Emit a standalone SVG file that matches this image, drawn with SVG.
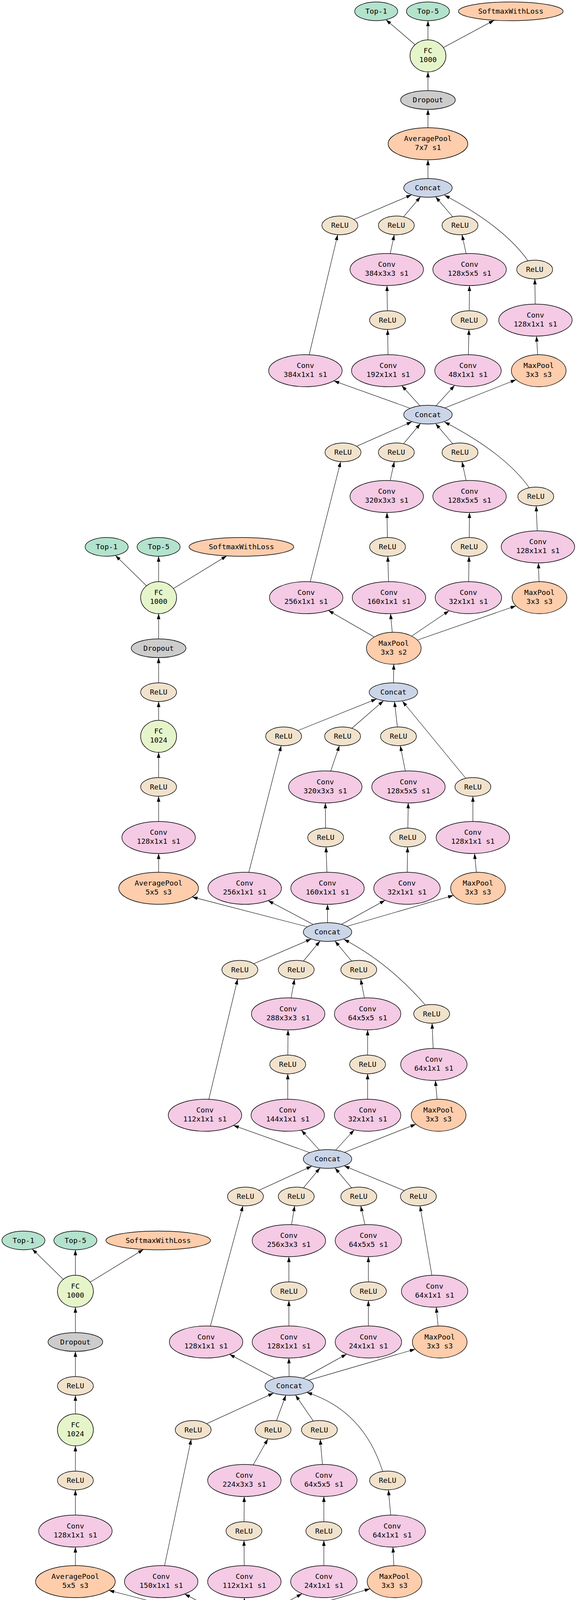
<svg xmlns="http://www.w3.org/2000/svg" width="1477" height="6967" viewBox="0 0 1477 6967">
<style>
text{font-family:"DejaVu Sans Mono","Liberation Mono",monospace;font-size:18.5px;text-anchor:middle;fill:#000}
ellipse{stroke:#000;stroke-width:1.4}
.conv ellipse{fill:#f4cae4}
.relu ellipse{fill:#f1e2cc}
.pool ellipse{fill:#fdcdac}
.cat ellipse{fill:#cbd5e8}
.fc ellipse{fill:#e6f5c9}
.drop ellipse{fill:#cccccc}
.io ellipse{fill:#b3e2cd}
.lrn ellipse{fill:#fff2ae}
#edges path{fill:none;stroke:#000;stroke-width:1.1;marker-end:url(#arr)}
</style>
<defs>
<marker id="arr" markerUnits="userSpaceOnUse" markerWidth="14" markerHeight="10" refX="14" refY="5" orient="auto" viewBox="0 0 14 10"><path d="M0,0.5 L14,5 L0,9.5 z" fill="#000"/></marker>
</defs>
<rect width="1477" height="6967" fill="#fff"/>
<g id="edges">
<path d="M1095.5,143 L987.9,50.4"/>
<path d="M1095.5,143 L1095.5,53"/>
<path d="M1095.5,143 L1265.1,51.8"/>
<path d="M1095.5,256 L1095.5,184"/>
<path d="M1095.5,368 L1095.5,280"/>
<path d="M1095.5,481 L1095.5,409"/>
<path d="M870,577 L1053.8,498.7"/>
<path d="M1014.5,577 L1076.3,503.8"/>
<path d="M1177.5,577 L1115,503.8"/>
<path d="M1351.7,667.7 Q1290,580 1137.5,499.5"/>
<path d="M990,690 L1009.3,600.8"/>
<path d="M1202,690 L1182.7,600.8"/>
<path d="M992,819.5 L990.6,731"/>
<path d="M1201,819.5 L1201.7,731"/>
<path d="M1370.6,819.5 L1369.1,714"/>
<path d="M781.8,949 L864.4,600.8"/>
<path d="M993.8,949 L992.3,843.5"/>
<path d="M1198,949 L1200.4,843.5"/>
<path d="M1379,949 L1373.3,860.5"/>
<path d="M1095.5,1061.5 L854.4,975"/>
<path d="M1095.5,1061.5 L1028.3,987.1"/>
<path d="M1095.5,1061.5 L1163.8,986.5"/>
<path d="M1095.5,1061.5 L1321.1,972"/>
<path d="M878,1158 L1054.7,1079.6"/>
<path d="M1014.5,1158 L1076.3,1084.3"/>
<path d="M1177.5,1158 L1114.9,1084.3"/>
<path d="M1354.5,1248.2 Q1292,1160.5 1137.5,1080"/>
<path d="M990,1271 L1009.3,1181.8"/>
<path d="M1202,1271 L1182.7,1181.8"/>
<path d="M992,1400 L990.6,1312"/>
<path d="M1201,1400 L1201.7,1312"/>
<path d="M1377,1400 L1372.5,1295"/>
<path d="M783.7,1530 L872,1181.8"/>
<path d="M995.7,1530 L992.7,1424"/>
<path d="M1199,1530 L1200.6,1424"/>
<path d="M1381,1530 L1378.3,1441"/>
<path d="M1008,1659.5 L840.4,1562.7"/>
<path d="M1008,1659.5 L999.6,1571"/>
<path d="M1008,1659.5 L1149.7,1563.4"/>
<path d="M1008,1659.5 L1320.8,1550.9"/>
<path d="M1007,1772 L1007.9,1700.5"/>
<path d="M406,1530 L295.4,1421.9"/>
<path d="M406,1530 L406,1424"/>
<path d="M406,1530 L580.4,1423"/>
<path d="M406,1659.5 L406,1571"/>
<path d="M406,1772 L406,1683.5"/>
<path d="M406,1885 L406,1796"/>
<path d="M406,2014.5 L406,1926"/>
<path d="M406,2144 L406,2038.5"/>
<path d="M406,2274 L406,2185"/>
<path d="M838.4,2386 L491.7,2296.2"/>
<path d="M726,1885 L964,1789.3"/>
<path d="M877,1885 L981.8,1793.9"/>
<path d="M1020,1885 L1009.8,1796"/>
<path d="M1210.5,2014.5 L1030,1795"/>
<path d="M832.7,2014.5 L868.9,1908.6"/>
<path d="M1045.6,2014.5 L1024.7,1908.9"/>
<path d="M833.6,2144 L832.9,2055.5"/>
<path d="M1043.7,2144 L1045,2055.5"/>
<path d="M1210.5,2144 L1210.5,2038.5"/>
<path d="M626.4,2274 L719.9,1908.8"/>
<path d="M838.4,2274 L834.5,2168"/>
<path d="M1041.8,2274 L1043.3,2168"/>
<path d="M1223.6,2274 L1214.6,2185"/>
<path d="M838.4,2386 L686.2,2305.6"/>
<path d="M838.4,2386 L838.4,2315"/>
<path d="M838.4,2386 L985.8,2304.8"/>
<path d="M838.4,2386 L1160.9,2292.2"/>
<path d="M614,2482.5 L796.9,2403.8"/>
<path d="M758.3,2482.5 L819.4,2408.9"/>
<path d="M918.4,2482.5 L857.3,2408.9"/>
<path d="M1088,2572 Q995,2465 880,2404.5"/>
<path d="M737.6,2595.5 L754,2506.4"/>
<path d="M941,2595.5 L923.2,2506.4"/>
<path d="M736.6,2725 L737.3,2636.5"/>
<path d="M941,2725 L941,2636.5"/>
<path d="M1110.6,2725 L1106,2619.5"/>
<path d="M524.7,2855 L608.3,2506.3"/>
<path d="M736.6,2855 L736.6,2749"/>
<path d="M941,2855 L941,2749"/>
<path d="M1122.8,2855 L1114.4,2766"/>
<path d="M838.4,2967 L597.4,2881"/>
<path d="M838.4,2967 L771.2,2893.1"/>
<path d="M838.4,2967 L906.6,2892.5"/>
<path d="M838.4,2967 L1064.7,2877.9"/>
<path d="M628.3,3063 L798.3,2985.3"/>
<path d="M758.3,3063 L819.3,2989.8"/>
<path d="M918.4,3063 L857.4,2989.8"/>
<path d="M1071,3063 L880.8,2984.5"/>
<path d="M739.5,3176 L754.3,3086.9"/>
<path d="M943,3176 L923.6,3086.8"/>
<path d="M739.5,3305.5 L739.5,3217"/>
<path d="M943,3305.5 L943,3217"/>
<path d="M1112.5,3305.5 L1075.1,3086.9"/>
<path d="M527.5,3435.5 L621.9,3086.8"/>
<path d="M739.5,3435.5 L739.5,3329.5"/>
<path d="M943,3435.5 L943,3329.5"/>
<path d="M1125.6,3435.5 L1116.6,3346.5"/>
<path d="M740.4,3548 L587.3,3467.1"/>
<path d="M740.4,3548 L739.5,3476.5"/>
<path d="M740.4,3548 L887.3,3466.4"/>
<path d="M740.4,3548 L1063,3453.8"/>
<path d="M193,3305.5 L82.4,3197.4"/>
<path d="M193,3305.5 L193,3199.5"/>
<path d="M193,3305.5 L367.4,3198.5"/>
<path d="M193,3435.5 L193,3346.5"/>
<path d="M193,3548 L193,3459.5"/>
<path d="M193,3660.5 L193,3572"/>
<path d="M193,3790 L193,3701.5"/>
<path d="M193,3919.5 L193,3814"/>
<path d="M193,4049 L193,3960.5"/>
<path d="M625.5,4161.5 L278.6,4071.3"/>
<path d="M494.5,3660.5 L700.3,3566.3"/>
<path d="M699,3660.5 L731.7,3571.8"/>
<path d="M817.6,3660.5 L756.3,3571.2"/>
<path d="M979.6,3766.7 Q930,3610 785,3564.5"/>
<path d="M625.5,3790 L685.9,3683.5"/>
<path d="M829,3790 L819.7,3684.5"/>
<path d="M624.5,3919.5 L625.2,3831"/>
<path d="M829,3919.5 L829,3831"/>
<path d="M1004,3919.5 L994.2,3814"/>
<path d="M412.6,4049 L489.5,3684.4"/>
<path d="M625.5,4049 L624.6,3943.5"/>
<path d="M829,4049 L829,3943.5"/>
<path d="M1010,4049 L1005.9,3960.5"/>
<path d="M625.5,4161.5 L472.4,4080.6"/>
<path d="M625.5,4161.5 L625.5,4090"/>
<path d="M625.5,4161.5 L773.1,4079.9"/>
<path d="M625.5,4161.5 L947.4,4067.3"/>
<path d="M403,4258 L584.2,4179.4"/>
<path d="M545.4,4258 L606.5,4184.4"/>
<path d="M704.6,4258 L644.3,4184.4"/>
<path d="M871.3,4348 Q800,4250 669,4180"/>
<path d="M523.7,4371 L540.8,4281.9"/>
<path d="M728,4371 L709.5,4281.9"/>
<path d="M524.7,4500 L524,4412"/>
<path d="M725.3,4500 L727.1,4412"/>
<path d="M894,4500 L889.4,4395"/>
<path d="M323,4630 L397.9,4281.8"/>
<path d="M526.6,4630 L525,4524"/>
<path d="M723.4,4630 L725,4524"/>
<path d="M905,4630 L897.5,4541"/>
<path d="M625,4759.5 L390,4658.7"/>
<path d="M625,4759.5 L555.9,4668.5"/>
<path d="M625,4759.5 L694.1,4668.5"/>
<path d="M625,4759.5 L850.1,4655.4"/>
<path d="M625,4872 L625,4800.5"/>
<path d="M401.3,4968.5 L583.6,4889.9"/>
<path d="M545.4,4968.5 L606.1,4894.9"/>
<path d="M704.6,4968.5 L643.9,4894.9"/>
<path d="M871.3,5058.5 Q800,4960.5 669,4890.5"/>
<path d="M523.7,5081.5 L540.8,4992.4"/>
<path d="M728,5081.5 L709.5,4992.4"/>
<path d="M523.7,5210.5 L523.7,5122.5"/>
<path d="M728,5210.5 L728,5122.5"/>
<path d="M885.5,5210.5 L885.5,5105.5"/>
<path d="M311.8,5341 L395.6,4992.3"/>
<path d="M523.7,5341 L523.7,5234.5"/>
<path d="M728,5341 L728,5234.5"/>
<path d="M909,5341 L892.9,5251.3"/>
<path d="M625,5453 L384.5,5367"/>
<path d="M625,5453 L558.2,5379.1"/>
<path d="M625,5453 L693.5,5378.5"/>
<path d="M625,5453 L850.9,5363.9"/>
<path d="M405,5549.5 L584,5471"/>
<path d="M545.4,5549.5 L606.1,5475.9"/>
<path d="M704.6,5549.5 L643.9,5475.9"/>
<path d="M871.3,5639.5 Q800,5541.5 669,5471.5"/>
<path d="M523.7,5662.5 L540.8,5573.4"/>
<path d="M728,5662.5 L709.5,5573.4"/>
<path d="M524.7,5791.5 L524,5703.5"/>
<path d="M726,5791.5 L727.4,5703.5"/>
<path d="M885.5,5791.5 L885.5,5686.5"/>
<path d="M328.7,5921.5 L400.1,5573.3"/>
<path d="M526.6,5921.5 L525,5815.5"/>
<path d="M723.4,5921.5 L725.5,5815.5"/>
<path d="M905,5921.5 L891.6,5832.4"/>
<path d="M625,6051 L391.7,5949"/>
<path d="M625,6051 L555.9,5960"/>
<path d="M625,6051 L694.1,5960"/>
<path d="M625,6051 L850.1,5946.9"/>
<path d="M625,6163.5 L625,6092"/>
<path d="M625,6260 L625,6187.5"/>
<path d="M625,6373 L625,6284"/>
<path d="M625,6486 L625,6414"/>
<path d="M625,6600 L625,6510"/>
<path d="M625,6713 L625,6641"/>
<path d="M625,6826 L625,6737"/>
<path d="M566,6940 L604.4,6865.8"/>
<path d="M683,6940 L645.3,6865.8"/>
</g>
<g id="nodes">
<g id="n1" class="io" transform="translate(963,29)"><ellipse rx="55" ry="24"/><text y="6">Top-1</text></g>
<g id="n2" class="io" transform="translate(1095.5,29)"><ellipse rx="55" ry="24"/><text y="6">Top-5</text></g>
<g id="n3" class="pool" transform="translate(1307.5,29)"><ellipse rx="134" ry="24"/><text y="6">SoftmaxWithLoss</text></g>
<g id="n4" class="fc" transform="translate(1095.5,143)"><ellipse rx="46" ry="41"/><text y="-7">FC</text><text y="16">1000</text></g>
<g id="n5" class="drop" transform="translate(1095.5,256)"><ellipse rx="70" ry="24"/><text y="6">Dropout</text></g>
<g id="n6" class="pool" transform="translate(1095.5,368)"><ellipse rx="102" ry="41"/><text y="-7">AveragePool</text><text y="16">7x7 s1</text></g>
<g id="n7" class="cat" transform="translate(1095.5,481)"><ellipse rx="62" ry="24"/><text y="6">Concat</text></g>
<g id="n8" class="relu" transform="translate(870,577)"><ellipse rx="46" ry="24"/><text y="6">ReLU</text></g>
<g id="n9" class="relu" transform="translate(1014.5,577)"><ellipse rx="46" ry="24"/><text y="6">ReLU</text></g>
<g id="n10" class="relu" transform="translate(1177.5,577)"><ellipse rx="46" ry="24"/><text y="6">ReLU</text></g>
<g id="n11" class="conv" transform="translate(990,690)"><ellipse rx="94" ry="41"/><text y="-7">Conv</text><text y="16">384x3x3 s1</text></g>
<g id="n12" class="conv" transform="translate(1202,690)"><ellipse rx="94" ry="41"/><text y="-7">Conv</text><text y="16">128x5x5 s1</text></g>
<g id="n13" class="relu" transform="translate(1368.7,690)"><ellipse rx="46" ry="24"/><text y="6">ReLU</text></g>
<g id="n14" class="relu" transform="translate(992,819.5)"><ellipse rx="46" ry="24"/><text y="6">ReLU</text></g>
<g id="n15" class="relu" transform="translate(1201,819.5)"><ellipse rx="46" ry="24"/><text y="6">ReLU</text></g>
<g id="n16" class="conv" transform="translate(1370.6,819.5)"><ellipse rx="94" ry="41"/><text y="-7">Conv</text><text y="16">128x1x1 s1</text></g>
<g id="n17" class="conv" transform="translate(781.8,949)"><ellipse rx="94" ry="41"/><text y="-7">Conv</text><text y="16">384x1x1 s1</text></g>
<g id="n18" class="conv" transform="translate(993.8,949)"><ellipse rx="94" ry="41"/><text y="-7">Conv</text><text y="16">192x1x1 s1</text></g>
<g id="n19" class="conv" transform="translate(1198,949)"><ellipse rx="85" ry="41"/><text y="-7">Conv</text><text y="16">48x1x1 s1</text></g>
<g id="n20" class="pool" transform="translate(1379,949)"><ellipse rx="70" ry="41"/><text y="-7">MaxPool</text><text y="16">3x3 s3</text></g>
<g id="n21" class="cat" transform="translate(1095.5,1061.5)"><ellipse rx="62" ry="24"/><text y="6">Concat</text></g>
<g id="n22" class="relu" transform="translate(878,1158)"><ellipse rx="46" ry="24"/><text y="6">ReLU</text></g>
<g id="n23" class="relu" transform="translate(1014.5,1158)"><ellipse rx="46" ry="24"/><text y="6">ReLU</text></g>
<g id="n24" class="relu" transform="translate(1177.5,1158)"><ellipse rx="46" ry="24"/><text y="6">ReLU</text></g>
<g id="n25" class="conv" transform="translate(990,1271)"><ellipse rx="94" ry="41"/><text y="-7">Conv</text><text y="16">320x3x3 s1</text></g>
<g id="n26" class="conv" transform="translate(1202,1271)"><ellipse rx="94" ry="41"/><text y="-7">Conv</text><text y="16">128x5x5 s1</text></g>
<g id="n27" class="relu" transform="translate(1371.5,1271)"><ellipse rx="46" ry="24"/><text y="6">ReLU</text></g>
<g id="n28" class="relu" transform="translate(992,1400)"><ellipse rx="46" ry="24"/><text y="6">ReLU</text></g>
<g id="n29" class="relu" transform="translate(1201,1400)"><ellipse rx="46" ry="24"/><text y="6">ReLU</text></g>
<g id="n30" class="conv" transform="translate(1377,1400)"><ellipse rx="94" ry="41"/><text y="-7">Conv</text><text y="16">128x1x1 s1</text></g>
<g id="n31" class="conv" transform="translate(783.7,1530)"><ellipse rx="94" ry="41"/><text y="-7">Conv</text><text y="16">256x1x1 s1</text></g>
<g id="n32" class="conv" transform="translate(995.7,1530)"><ellipse rx="94" ry="41"/><text y="-7">Conv</text><text y="16">160x1x1 s1</text></g>
<g id="n33" class="conv" transform="translate(1199,1530)"><ellipse rx="85" ry="41"/><text y="-7">Conv</text><text y="16">32x1x1 s1</text></g>
<g id="n34" class="pool" transform="translate(1381,1530)"><ellipse rx="70" ry="41"/><text y="-7">MaxPool</text><text y="16">3x3 s3</text></g>
<g id="n35" class="pool" transform="translate(1008,1659.5)"><ellipse rx="70" ry="41"/><text y="-7">MaxPool</text><text y="16">3x3 s2</text></g>
<g id="n36" class="cat" transform="translate(1007,1772)"><ellipse rx="62" ry="24"/><text y="6">Concat</text></g>
<g id="n37" class="io" transform="translate(273,1400)"><ellipse rx="55" ry="24"/><text y="6">Top-1</text></g>
<g id="n38" class="io" transform="translate(406,1400)"><ellipse rx="55" ry="24"/><text y="6">Top-5</text></g>
<g id="n39" class="pool" transform="translate(618,1400)"><ellipse rx="134" ry="24"/><text y="6">SoftmaxWithLoss</text></g>
<g id="n40" class="fc" transform="translate(406,1530)"><ellipse rx="46" ry="41"/><text y="-7">FC</text><text y="16">1000</text></g>
<g id="n41" class="drop" transform="translate(406,1659.5)"><ellipse rx="70" ry="24"/><text y="6">Dropout</text></g>
<g id="n42" class="relu" transform="translate(406,1772)"><ellipse rx="46" ry="24"/><text y="6">ReLU</text></g>
<g id="n43" class="fc" transform="translate(406,1885)"><ellipse rx="46" ry="41"/><text y="-7">FC</text><text y="16">1024</text></g>
<g id="n44" class="relu" transform="translate(406,2014.5)"><ellipse rx="46" ry="24"/><text y="6">ReLU</text></g>
<g id="n45" class="conv" transform="translate(406,2144)"><ellipse rx="94" ry="41"/><text y="-7">Conv</text><text y="16">128x1x1 s1</text></g>
<g id="n46" class="pool" transform="translate(406,2274)"><ellipse rx="102" ry="41"/><text y="-7">AveragePool</text><text y="16">5x5 s3</text></g>
<g id="n47" class="relu" transform="translate(726,1885)"><ellipse rx="46" ry="24"/><text y="6">ReLU</text></g>
<g id="n48" class="relu" transform="translate(877,1885)"><ellipse rx="46" ry="24"/><text y="6">ReLU</text></g>
<g id="n49" class="relu" transform="translate(1020,1885)"><ellipse rx="46" ry="24"/><text y="6">ReLU</text></g>
<g id="n50" class="conv" transform="translate(832.7,2014.5)"><ellipse rx="94" ry="41"/><text y="-7">Conv</text><text y="16">320x3x3 s1</text></g>
<g id="n51" class="conv" transform="translate(1045.6,2014.5)"><ellipse rx="94" ry="41"/><text y="-7">Conv</text><text y="16">128x5x5 s1</text></g>
<g id="n52" class="relu" transform="translate(1210.5,2014.5)"><ellipse rx="46" ry="24"/><text y="6">ReLU</text></g>
<g id="n53" class="relu" transform="translate(833.6,2144)"><ellipse rx="46" ry="24"/><text y="6">ReLU</text></g>
<g id="n54" class="relu" transform="translate(1043.7,2144)"><ellipse rx="46" ry="24"/><text y="6">ReLU</text></g>
<g id="n55" class="conv" transform="translate(1210.5,2144)"><ellipse rx="94" ry="41"/><text y="-7">Conv</text><text y="16">128x1x1 s1</text></g>
<g id="n56" class="conv" transform="translate(626.4,2274)"><ellipse rx="94" ry="41"/><text y="-7">Conv</text><text y="16">256x1x1 s1</text></g>
<g id="n57" class="conv" transform="translate(838.4,2274)"><ellipse rx="94" ry="41"/><text y="-7">Conv</text><text y="16">160x1x1 s1</text></g>
<g id="n58" class="conv" transform="translate(1041.8,2274)"><ellipse rx="85" ry="41"/><text y="-7">Conv</text><text y="16">32x1x1 s1</text></g>
<g id="n59" class="pool" transform="translate(1223.6,2274)"><ellipse rx="70" ry="41"/><text y="-7">MaxPool</text><text y="16">3x3 s3</text></g>
<g id="n60" class="cat" transform="translate(838.4,2386)"><ellipse rx="62" ry="24"/><text y="6">Concat</text></g>
<g id="n61" class="relu" transform="translate(614,2482.5)"><ellipse rx="46" ry="24"/><text y="6">ReLU</text></g>
<g id="n62" class="relu" transform="translate(758.3,2482.5)"><ellipse rx="46" ry="24"/><text y="6">ReLU</text></g>
<g id="n63" class="relu" transform="translate(918.4,2482.5)"><ellipse rx="46" ry="24"/><text y="6">ReLU</text></g>
<g id="n64" class="conv" transform="translate(737.6,2595.5)"><ellipse rx="94" ry="41"/><text y="-7">Conv</text><text y="16">288x3x3 s1</text></g>
<g id="n65" class="conv" transform="translate(941,2595.5)"><ellipse rx="85" ry="41"/><text y="-7">Conv</text><text y="16">64x5x5 s1</text></g>
<g id="n66" class="relu" transform="translate(1105,2595.5)"><ellipse rx="46" ry="24"/><text y="6">ReLU</text></g>
<g id="n67" class="relu" transform="translate(736.6,2725)"><ellipse rx="46" ry="24"/><text y="6">ReLU</text></g>
<g id="n68" class="relu" transform="translate(941,2725)"><ellipse rx="46" ry="24"/><text y="6">ReLU</text></g>
<g id="n69" class="conv" transform="translate(1110.6,2725)"><ellipse rx="85" ry="41"/><text y="-7">Conv</text><text y="16">64x1x1 s1</text></g>
<g id="n70" class="conv" transform="translate(524.7,2855)"><ellipse rx="94" ry="41"/><text y="-7">Conv</text><text y="16">112x1x1 s1</text></g>
<g id="n71" class="conv" transform="translate(736.6,2855)"><ellipse rx="94" ry="41"/><text y="-7">Conv</text><text y="16">144x1x1 s1</text></g>
<g id="n72" class="conv" transform="translate(941,2855)"><ellipse rx="85" ry="41"/><text y="-7">Conv</text><text y="16">32x1x1 s1</text></g>
<g id="n73" class="pool" transform="translate(1122.8,2855)"><ellipse rx="70" ry="41"/><text y="-7">MaxPool</text><text y="16">3x3 s3</text></g>
<g id="n74" class="cat" transform="translate(838.4,2967)"><ellipse rx="62" ry="24"/><text y="6">Concat</text></g>
<g id="n75" class="relu" transform="translate(628.3,3063)"><ellipse rx="46" ry="24"/><text y="6">ReLU</text></g>
<g id="n76" class="relu" transform="translate(758.3,3063)"><ellipse rx="46" ry="24"/><text y="6">ReLU</text></g>
<g id="n77" class="relu" transform="translate(918.4,3063)"><ellipse rx="46" ry="24"/><text y="6">ReLU</text></g>
<g id="n78" class="relu" transform="translate(1071,3063)"><ellipse rx="46" ry="24"/><text y="6">ReLU</text></g>
<g id="n79" class="io" transform="translate(60,3175.5)"><ellipse rx="55" ry="24"/><text y="6">Top-1</text></g>
<g id="n80" class="io" transform="translate(193,3175.5)"><ellipse rx="55" ry="24"/><text y="6">Top-5</text></g>
<g id="n81" class="pool" transform="translate(405,3175.5)"><ellipse rx="134" ry="24"/><text y="6">SoftmaxWithLoss</text></g>
<g id="n82" class="conv" transform="translate(739.5,3176)"><ellipse rx="94" ry="41"/><text y="-7">Conv</text><text y="16">256x3x3 s1</text></g>
<g id="n83" class="conv" transform="translate(943,3176)"><ellipse rx="85" ry="41"/><text y="-7">Conv</text><text y="16">64x5x5 s1</text></g>
<g id="n84" class="fc" transform="translate(193,3305.5)"><ellipse rx="46" ry="41"/><text y="-7">FC</text><text y="16">1000</text></g>
<g id="n85" class="relu" transform="translate(739.5,3305.5)"><ellipse rx="46" ry="24"/><text y="6">ReLU</text></g>
<g id="n86" class="relu" transform="translate(943,3305.5)"><ellipse rx="46" ry="24"/><text y="6">ReLU</text></g>
<g id="n87" class="conv" transform="translate(1112.5,3305.5)"><ellipse rx="85" ry="41"/><text y="-7">Conv</text><text y="16">64x1x1 s1</text></g>
<g id="n88" class="drop" transform="translate(193,3435.5)"><ellipse rx="70" ry="24"/><text y="6">Dropout</text></g>
<g id="n89" class="conv" transform="translate(527.5,3435.5)"><ellipse rx="94" ry="41"/><text y="-7">Conv</text><text y="16">128x1x1 s1</text></g>
<g id="n90" class="conv" transform="translate(739.5,3435.5)"><ellipse rx="94" ry="41"/><text y="-7">Conv</text><text y="16">128x1x1 s1</text></g>
<g id="n91" class="conv" transform="translate(943,3435.5)"><ellipse rx="85" ry="41"/><text y="-7">Conv</text><text y="16">24x1x1 s1</text></g>
<g id="n92" class="pool" transform="translate(1125.6,3435.5)"><ellipse rx="70" ry="41"/><text y="-7">MaxPool</text><text y="16">3x3 s3</text></g>
<g id="n93" class="relu" transform="translate(193,3548)"><ellipse rx="46" ry="24"/><text y="6">ReLU</text></g>
<g id="n94" class="cat" transform="translate(740.4,3548)"><ellipse rx="62" ry="24"/><text y="6">Concat</text></g>
<g id="n95" class="fc" transform="translate(193,3660.5)"><ellipse rx="46" ry="41"/><text y="-7">FC</text><text y="16">1024</text></g>
<g id="n96" class="relu" transform="translate(494.5,3660.5)"><ellipse rx="46" ry="24"/><text y="6">ReLU</text></g>
<g id="n97" class="relu" transform="translate(699,3660.5)"><ellipse rx="46" ry="24"/><text y="6">ReLU</text></g>
<g id="n98" class="relu" transform="translate(817.6,3660.5)"><ellipse rx="46" ry="24"/><text y="6">ReLU</text></g>
<g id="n99" class="relu" transform="translate(193,3790)"><ellipse rx="46" ry="24"/><text y="6">ReLU</text></g>
<g id="n100" class="conv" transform="translate(625.5,3790)"><ellipse rx="94" ry="41"/><text y="-7">Conv</text><text y="16">224x3x3 s1</text></g>
<g id="n101" class="conv" transform="translate(829,3790)"><ellipse rx="85" ry="41"/><text y="-7">Conv</text><text y="16">64x5x5 s1</text></g>
<g id="n102" class="relu" transform="translate(992,3790)"><ellipse rx="46" ry="24"/><text y="6">ReLU</text></g>
<g id="n103" class="conv" transform="translate(193,3919.5)"><ellipse rx="94" ry="41"/><text y="-7">Conv</text><text y="16">128x1x1 s1</text></g>
<g id="n104" class="relu" transform="translate(624.5,3919.5)"><ellipse rx="46" ry="24"/><text y="6">ReLU</text></g>
<g id="n105" class="relu" transform="translate(829,3919.5)"><ellipse rx="46" ry="24"/><text y="6">ReLU</text></g>
<g id="n106" class="conv" transform="translate(1004,3919.5)"><ellipse rx="85" ry="41"/><text y="-7">Conv</text><text y="16">64x1x1 s1</text></g>
<g id="n107" class="pool" transform="translate(193,4049)"><ellipse rx="102" ry="41"/><text y="-7">AveragePool</text><text y="16">5x5 s3</text></g>
<g id="n108" class="conv" transform="translate(412.6,4049)"><ellipse rx="94" ry="41"/><text y="-7">Conv</text><text y="16">150x1x1 s1</text></g>
<g id="n109" class="conv" transform="translate(625.5,4049)"><ellipse rx="94" ry="41"/><text y="-7">Conv</text><text y="16">112x1x1 s1</text></g>
<g id="n110" class="conv" transform="translate(829,4049)"><ellipse rx="85" ry="41"/><text y="-7">Conv</text><text y="16">24x1x1 s1</text></g>
<g id="n111" class="pool" transform="translate(1010,4049)"><ellipse rx="70" ry="41"/><text y="-7">MaxPool</text><text y="16">3x3 s3</text></g>
<g id="n112" class="cat" transform="translate(625.5,4161.5)"><ellipse rx="62" ry="24"/><text y="6">Concat</text></g>
<g id="n113" class="relu" transform="translate(403,4258)"><ellipse rx="46" ry="24"/><text y="6">ReLU</text></g>
<g id="n114" class="relu" transform="translate(545.4,4258)"><ellipse rx="46" ry="24"/><text y="6">ReLU</text></g>
<g id="n115" class="relu" transform="translate(704.6,4258)"><ellipse rx="46" ry="24"/><text y="6">ReLU</text></g>
<g id="n116" class="conv" transform="translate(523.7,4371)"><ellipse rx="94" ry="41"/><text y="-7">Conv</text><text y="16">208x3x3 s1</text></g>
<g id="n117" class="conv" transform="translate(728,4371)"><ellipse rx="85" ry="41"/><text y="-7">Conv</text><text y="16">48x5x5 s1</text></g>
<g id="n118" class="relu" transform="translate(888.3,4371)"><ellipse rx="46" ry="24"/><text y="6">ReLU</text></g>
<g id="n119" class="relu" transform="translate(524.7,4500)"><ellipse rx="46" ry="24"/><text y="6">ReLU</text></g>
<g id="n120" class="relu" transform="translate(725.3,4500)"><ellipse rx="46" ry="24"/><text y="6">ReLU</text></g>
<g id="n121" class="conv" transform="translate(894,4500)"><ellipse rx="85" ry="41"/><text y="-7">Conv</text><text y="16">64x1x1 s1</text></g>
<g id="n122" class="conv" transform="translate(323,4630)"><ellipse rx="94" ry="41"/><text y="-7">Conv</text><text y="16">192x1x1 s1</text></g>
<g id="n123" class="conv" transform="translate(526.6,4630)"><ellipse rx="85" ry="41"/><text y="-7">Conv</text><text y="16">96x1x1 s1</text></g>
<g id="n124" class="conv" transform="translate(723.4,4630)"><ellipse rx="85" ry="41"/><text y="-7">Conv</text><text y="16">16x1x1 s1</text></g>
<g id="n125" class="pool" transform="translate(905,4630)"><ellipse rx="70" ry="41"/><text y="-7">MaxPool</text><text y="16">3x3 s3</text></g>
<g id="n126" class="pool" transform="translate(625,4759.5)"><ellipse rx="70" ry="41"/><text y="-7">MaxPool</text><text y="16">3x3 s2</text></g>
<g id="n127" class="cat" transform="translate(625,4872)"><ellipse rx="62" ry="24"/><text y="6">Concat</text></g>
<g id="n128" class="relu" transform="translate(401.3,4968.5)"><ellipse rx="46" ry="24"/><text y="6">ReLU</text></g>
<g id="n129" class="relu" transform="translate(545.4,4968.5)"><ellipse rx="46" ry="24"/><text y="6">ReLU</text></g>
<g id="n130" class="relu" transform="translate(704.6,4968.5)"><ellipse rx="46" ry="24"/><text y="6">ReLU</text></g>
<g id="n131" class="conv" transform="translate(523.7,5081.5)"><ellipse rx="94" ry="41"/><text y="-7">Conv</text><text y="16">192x3x3 s1</text></g>
<g id="n132" class="conv" transform="translate(728,5081.5)"><ellipse rx="85" ry="41"/><text y="-7">Conv</text><text y="16">96x5x5 s1</text></g>
<g id="n133" class="relu" transform="translate(885.5,5081.5)"><ellipse rx="46" ry="24"/><text y="6">ReLU</text></g>
<g id="n134" class="relu" transform="translate(523.7,5210.5)"><ellipse rx="46" ry="24"/><text y="6">ReLU</text></g>
<g id="n135" class="relu" transform="translate(728,5210.5)"><ellipse rx="46" ry="24"/><text y="6">ReLU</text></g>
<g id="n136" class="conv" transform="translate(885.5,5210.5)"><ellipse rx="85" ry="41"/><text y="-7">Conv</text><text y="16">64x1x1 s1</text></g>
<g id="n137" class="conv" transform="translate(311.8,5341)"><ellipse rx="94" ry="41"/><text y="-7">Conv</text><text y="16">128x1x1 s1</text></g>
<g id="n138" class="conv" transform="translate(523.7,5341)"><ellipse rx="94" ry="41"/><text y="-7">Conv</text><text y="16">128x1x1 s1</text></g>
<g id="n139" class="conv" transform="translate(728,5341)"><ellipse rx="85" ry="41"/><text y="-7">Conv</text><text y="16">32x1x1 s1</text></g>
<g id="n140" class="pool" transform="translate(909,5341)"><ellipse rx="70" ry="41"/><text y="-7">MaxPool</text><text y="16">3x3 s3</text></g>
<g id="n141" class="cat" transform="translate(625,5453)"><ellipse rx="62" ry="24"/><text y="6">Concat</text></g>
<g id="n142" class="relu" transform="translate(405,5549.5)"><ellipse rx="46" ry="24"/><text y="6">ReLU</text></g>
<g id="n143" class="relu" transform="translate(545.4,5549.5)"><ellipse rx="46" ry="24"/><text y="6">ReLU</text></g>
<g id="n144" class="relu" transform="translate(704.6,5549.5)"><ellipse rx="46" ry="24"/><text y="6">ReLU</text></g>
<g id="n145" class="conv" transform="translate(523.7,5662.5)"><ellipse rx="94" ry="41"/><text y="-7">Conv</text><text y="16">128x3x3 s1</text></g>
<g id="n146" class="conv" transform="translate(728,5662.5)"><ellipse rx="85" ry="41"/><text y="-7">Conv</text><text y="16">32x5x5 s1</text></g>
<g id="n147" class="relu" transform="translate(885.5,5662.5)"><ellipse rx="46" ry="24"/><text y="6">ReLU</text></g>
<g id="n148" class="relu" transform="translate(524.7,5791.5)"><ellipse rx="46" ry="24"/><text y="6">ReLU</text></g>
<g id="n149" class="relu" transform="translate(726,5791.5)"><ellipse rx="46" ry="24"/><text y="6">ReLU</text></g>
<g id="n150" class="conv" transform="translate(885.5,5791.5)"><ellipse rx="85" ry="41"/><text y="-7">Conv</text><text y="16">32x1x1 s1</text></g>
<g id="n151" class="conv" transform="translate(328.7,5921.5)"><ellipse rx="85" ry="41"/><text y="-7">Conv</text><text y="16">64x1x1 s1</text></g>
<g id="n152" class="conv" transform="translate(526.6,5921.5)"><ellipse rx="85" ry="41"/><text y="-7">Conv</text><text y="16">96x1x1 s1</text></g>
<g id="n153" class="conv" transform="translate(723.4,5921.5)"><ellipse rx="85" ry="41"/><text y="-7">Conv</text><text y="16">16x1x1 s1</text></g>
<g id="n154" class="pool" transform="translate(905,5921.5)"><ellipse rx="70" ry="41"/><text y="-7">MaxPool</text><text y="16">3x3 s3</text></g>
<g id="n155" class="pool" transform="translate(625,6051)"><ellipse rx="70" ry="41"/><text y="-7">MaxPool</text><text y="16">3x3 s2</text></g>
<g id="n156" class="lrn" transform="translate(625,6163.5)"><ellipse rx="39" ry="24"/><text y="6">LRN</text></g>
<g id="n157" class="relu" transform="translate(625,6260)"><ellipse rx="46" ry="24"/><text y="6">ReLU</text></g>
<g id="n158" class="conv" transform="translate(625,6373)"><ellipse rx="94" ry="41"/><text y="-7">Conv</text><text y="16">192x3x3 s1</text></g>
<g id="n159" class="lrn" transform="translate(625,6486)"><ellipse rx="39" ry="24"/><text y="6">LRN</text></g>
<g id="n160" class="pool" transform="translate(625,6600)"><ellipse rx="70" ry="41"/><text y="-7">MaxPool</text><text y="16">3x3 s2</text></g>
<g id="n161" class="relu" transform="translate(625,6713)"><ellipse rx="46" ry="24"/><text y="6">ReLU</text></g>
<g id="n162" class="conv" transform="translate(625,6826)"><ellipse rx="85" ry="41"/><text y="-7">Conv</text><text y="16">64x7x7 s2</text></g>
<g id="n163" class="io" transform="translate(566,6940)"><ellipse rx="46" ry="24"/><text y="6">Data</text></g>
<g id="n164" class="io" transform="translate(683,6940)"><ellipse rx="46" ry="24"/><text y="6">Data</text></g>
</g>
</svg>
